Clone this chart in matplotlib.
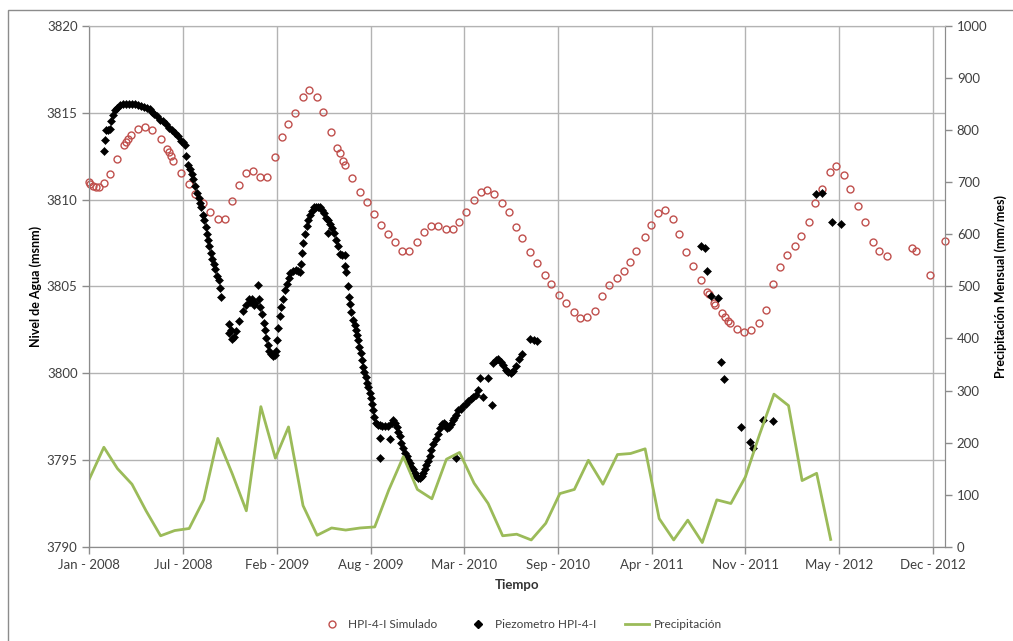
import numpy as np
import pandas as pd
import matplotlib
matplotlib.use("Agg")
import matplotlib.pyplot as plt
import matplotlib.dates as mdates
from matplotlib.lines import Line2D
from matplotlib.patches import Rectangle

plt.rcParams["font.family"] = ["Lato", "DejaVu Sans"]

# ── data ─────────────────────────────────────────────────────────────────────
start = np.datetime64("2008-01-01")

# simulated level (days since 2008-01-01, msnm)
sim_day = [0, 2, 7, 14, 21, 31, 45, 59, 73, 78, 82, 89, 103, 119, 134, 152,
           165, 169, 174, 179, 195, 213, 225, 243, 257, 274, 289, 304, 319,
           334, 349, 364, 380, 396, 411, 424, 439, 455, 469, 485, 499, 516,
           529, 535, 542, 545, 560, 577, 592, 607, 622, 638, 653, 668, 682,
           700, 714, 730, 744, 761, 775, 789, 803, 820, 835, 849, 864, 881,
           895, 910, 924, 941, 956, 973, 986, 1002, 1018, 1034, 1048, 1063,
           1078, 1095, 1109, 1125, 1140, 1153, 1167, 1185, 1198, 1213, 1228,
           1245, 1258, 1274, 1288, 1306, 1319, 1323, 1334, 1336, 1350, 1356,
           1363, 1367, 1382, 1397, 1413, 1428, 1443, 1459, 1473, 1489, 1505,
           1519, 1535, 1549, 1564, 1580, 1594, 1610, 1624, 1641, 1656, 1672,
           1686, 1703, 1756, 1763, 1794, 1825]
sim_level = [3811.04, 3810.90, 3810.81, 3810.71, 3810.75, 3810.94, 3811.48,
             3812.36, 3813.15, 3813.30, 3813.48, 3813.73, 3814.05, 3814.17,
             3814.01, 3813.49, 3812.90, 3812.76, 3812.50, 3812.20, 3811.56,
             3810.90, 3810.33, 3809.79, 3809.29, 3808.87, 3808.91, 3809.89,
             3810.83, 3811.52, 3811.67, 3811.29, 3811.33, 3812.48, 3813.59,
             3814.34, 3814.97, 3815.90, 3816.32, 3815.90, 3815.07, 3813.92,
             3813.00, 3812.71, 3812.23, 3812.00, 3811.23, 3810.46, 3809.85,
             3809.16, 3808.54, 3808.01, 3807.55, 3807.05, 3807.05, 3807.58,
             3808.16, 3808.45, 3808.50, 3808.31, 3808.31, 3808.73, 3809.27,
             3809.98, 3810.43, 3810.56, 3810.31, 3809.83, 3809.27, 3808.41,
             3807.76, 3806.97, 3806.37, 3805.66, 3805.13, 3804.51, 3804.04,
             3803.50, 3803.17, 3803.21, 3803.59, 3804.44, 3805.09, 3805.51,
             3805.86, 3806.43, 3807.06, 3807.84, 3808.54, 3809.25, 3809.41,
             3808.87, 3808.01, 3806.97, 3806.20, 3805.34, 3804.70, 3804.55,
             3804.04, 3803.94, 3803.46, 3803.23, 3802.98, 3802.88, 3802.54,
             3802.37, 3802.46, 3802.88, 3803.63, 3805.13, 3806.14, 3806.78,
             3807.35, 3807.91, 3808.73, 3809.79, 3810.62, 3811.61, 3811.96,
             3811.42, 3810.62, 3809.65, 3808.68, 3807.55, 3807.01, 3806.76,
             3807.20, 3807.05, 3805.66, 3807.64]

# piezometer readings (days since 2008-01-01, msnm)
obs_day = [32, 33, 36, 40, 44, 46, 51, 55, 59, 65, 72, 78, 85, 91, 97, 104,
           110, 117, 123, 129, 134, 139, 144, 151, 157, 164, 170, 176, 183,
           189, 196, 200, 204, 206, 210, 215, 218, 221, 225, 230, 233, 236,
           239, 242, 245, 248, 251, 253, 256, 260, 262, 265, 268, 272, 276,
           279, 282,
           297, 299, 302, 305, 309, 313, 320, 327, 334, 340, 343, 347, 351,
           353, 360, 362, 365, 368, 372, 375, 378, 381, 384, 388, 392, 396,
           399, 401, 403, 407, 410, 414, 417, 421, 425, 429, 434, 440, 445,
           449, 451, 454, 456, 460, 464, 467, 471, 475, 479, 483, 488, 492,
           496, 501, 505, 509, 510, 513, 518, 522, 526, 530, 534, 540, 545,
           546, 548, 552, 554, 556, 559, 562, 566, 569, 572, 574, 576, 579,
           582, 584, 587, 590, 593, 595, 598, 600, 603, 606, 608, 611, 616,
           620, 620, 620, 624, 631, 637, 641, 645, 648, 652, 656, 659, 663,
           666, 670, 673, 677, 680, 684, 687, 691, 695, 698, 702, 705, 709,
           712, 716, 719, 723, 727, 730, 734, 739, 743, 748, 752, 756, 761,
           764, 767, 771, 775, 779, 783, 783, 787, 793, 798, 803, 809, 814,
           819, 825, 830, 833, 840, 851, 859, 862, 867, 872, 878, 883, 889,
           894, 899, 905, 911, 917, 923, 940, 948, 955,
           1306, 1313, 1318, 1327, 1341, 1347, 1354, 1390, 1410, 1416, 1437,
           1459, 1551, 1563, 1585, 1605]
obs_level = [3812.80, 3813.45, 3814.00, 3814.00, 3814.05, 3814.50, 3814.90,
             3815.15, 3815.30, 3815.45, 3815.50, 3815.50, 3815.50, 3815.50,
             3815.48, 3815.45, 3815.40, 3815.35, 3815.28, 3815.20, 3815.05,
             3814.95, 3814.80, 3814.60, 3814.50, 3814.35, 3814.15, 3814.00,
             3813.85, 3813.65, 3813.40, 3813.30, 3813.15, 3812.50, 3812.00,
             3811.75, 3811.45, 3811.20, 3810.80, 3810.40, 3810.10, 3809.80,
             3809.55, 3809.10, 3808.80, 3808.40, 3808.00, 3807.65, 3807.30,
             3806.90, 3806.60, 3806.30, 3806.00, 3805.60, 3805.35, 3804.90,
             3804.40,
             3802.85, 3802.30, 3802.50, 3801.95, 3802.10, 3802.40, 3803.00,
             3803.60, 3803.90, 3804.30, 3804.10, 3804.30, 3803.90, 3804.05,
             3805.10, 3804.30, 3803.80, 3803.40, 3802.90, 3802.50, 3802.00,
             3801.60, 3801.30, 3801.10, 3801.00, 3801.05, 3801.30, 3801.90,
             3802.60, 3803.30, 3803.80, 3804.30, 3804.80, 3805.15, 3805.50,
             3805.75, 3805.90, 3805.95, 3805.90, 3805.80, 3806.30, 3806.90,
             3807.50, 3808.00, 3808.45, 3808.80, 3809.10, 3809.35, 3809.55,
             3809.60, 3809.60, 3809.55, 3809.40, 3809.20, 3808.95, 3808.80,
             3808.10, 3808.60, 3808.35, 3808.05, 3807.70, 3807.35, 3806.85,
             3806.80, 3806.80, 3806.20, 3805.80, 3805.00, 3804.40, 3804.00,
             3803.50, 3803.05, 3802.80, 3802.50, 3802.20, 3801.90, 3801.50,
             3801.15, 3800.75, 3800.35, 3800.05, 3799.75, 3799.45, 3799.20,
             3798.85, 3798.55, 3798.20, 3797.85, 3797.50, 3797.15, 3797.00,
             3797.00, 3796.26, 3795.10, 3796.95, 3796.95, 3796.95, 3796.20,
             3797.15, 3797.30, 3797.10, 3796.90, 3796.60, 3796.35, 3796.00,
             3795.70, 3795.40, 3795.20, 3795.00, 3794.80, 3794.60, 3794.45,
             3794.25, 3794.10, 3793.95, 3793.95, 3794.05, 3794.25, 3794.45,
             3794.70, 3794.95, 3795.25, 3795.60, 3795.90, 3796.20, 3796.50,
             3796.85, 3797.05, 3797.15, 3797.00, 3796.85, 3796.90, 3797.05,
             3797.30, 3797.40, 3797.60, 3795.10, 3797.85, 3797.95, 3798.10,
             3798.25, 3798.40, 3798.50, 3798.65, 3798.75, 3799.04, 3799.72,
             3798.62, 3799.72, 3798.18, 3800.58, 3800.75, 3800.80, 3800.65,
             3800.48, 3800.20, 3800.05, 3800.00, 3800.10, 3800.40, 3800.80,
             3801.10, 3801.95, 3801.90, 3801.85,
             3807.30, 3807.20, 3805.90, 3804.42, 3804.32, 3800.66, 3799.68,
             3796.90, 3796.03, 3795.69, 3797.28, 3797.22, 3810.31, 3810.40,
             3808.73, 3808.58]

# monthly precipitation from Jan 2008 (mm/mes)
precip = [130, 191, 150, 120, 69, 21, 31, 35, 90, 208, 140, 69,
          269, 170, 230, 79, 22, 36, 32, 36, 38, 109, 173, 110,
          92, 168, 181, 122, 83, 21, 24, 13, 45, 102, 110, 166,
          120, 177, 179, 188, 54, 13, 51, 8, 90, 83, 134, 215,
          293, 271, 127, 141, 14]

C_SIM = "#C0504D"
C_PRE = "#9BBB59"
C_GRID = "#B3B3B3"
C_AX = "#8C8C8C"
C_TXT = "#404040"

sim_x = start + np.array(sim_day).astype("timedelta64[D]")
obs_x = start + np.array(obs_day).astype("timedelta64[D]")
pre_x = pd.date_range("2008-01-01", periods=len(precip), freq="MS")

# ── figure ───────────────────────────────────────────────────────────────────
fig = plt.figure(figsize=(10.13, 6.41), dpi=100)
ax = fig.add_axes([0.0882, 0.1471, 0.8447, 0.8123])
ax2 = ax.twinx()

ax.plot(sim_x, sim_level, "o", ms=5, mfc="none", mec=C_SIM, mew=1.0,
        clip_on=False, zorder=3)
ax.plot(obs_x, obs_level, "D", ms=3.8, color="black", mew=0.4,
        clip_on=False, zorder=4)
ax2.plot(pre_x, precip, "-", color=C_PRE, lw=2.0, zorder=2)

ax.set_ylim(3790, 3820)
ax.set_yticks(np.arange(3790, 3821, 5))
ax2.set_ylim(0, 1000)
ax2.set_yticks(np.arange(0, 1001, 100))

ax.set_xlim(start, start + np.timedelta64(1826, "D"))
ax.set_xticks(start + np.arange(0, 1801, 200).astype("timedelta64[D]"))
ax.xaxis.set_major_formatter(mdates.DateFormatter("%b - %Y"))

ax.grid(True, color=C_GRID, lw=1.0)
ax.set_axisbelow(True)

for a in (ax, ax2):
    for s in a.spines.values():
        s.set_color(C_AX)
    a.spines["top"].set_color(C_GRID)
    a.tick_params(colors=C_AX, labelcolor=C_TXT, labelsize=9.5,
                  length=5, width=1, direction="out")

ax.set_ylabel("Nivel de Agua (msnm)", fontsize=9, fontweight="bold")
ax.yaxis.set_label_coords(-0.0553, 0.5)
ax2.set_ylabel("Precipitación Mensual (mm/mes)", fontsize=9,
               fontweight="bold")
ax2.yaxis.set_label_coords(1.0573, 0.5)
ax.set_xlabel("Tiempo", fontsize=9.5, fontweight="bold", color="#333333")
ax.xaxis.set_label_coords(0.5, -0.062)

handles = [
    Line2D([], [], ls="none", marker="o", ms=5, mfc="none", mec=C_SIM,
           mew=1.0, label="HPI-4-I Simulado"),
    Line2D([], [], ls="none", marker="D", ms=3.8, color="black",
           label="Piezometro HPI-4-I"),
    Line2D([], [], color=C_PRE, lw=2.0, label="Precipitación"),
]
leg = fig.legend(handles=handles, loc="center", ncol=3,
                 bbox_to_anchor=(0.514, 0.026), frameon=False,
                 fontsize=8.6, columnspacing=2.4, handlelength=2.0,
                 handletextpad=0.4)
for t in leg.get_texts():
    t.set_color(C_TXT)

fig.add_artist(Rectangle((8 / 1013, -0.1), 1.2, 0.9844 + 0.1,
                         transform=fig.transFigure, fill=False,
                         ec="#8C8C8C", lw=1.0))

fig.savefig("out.png", dpi=100)
